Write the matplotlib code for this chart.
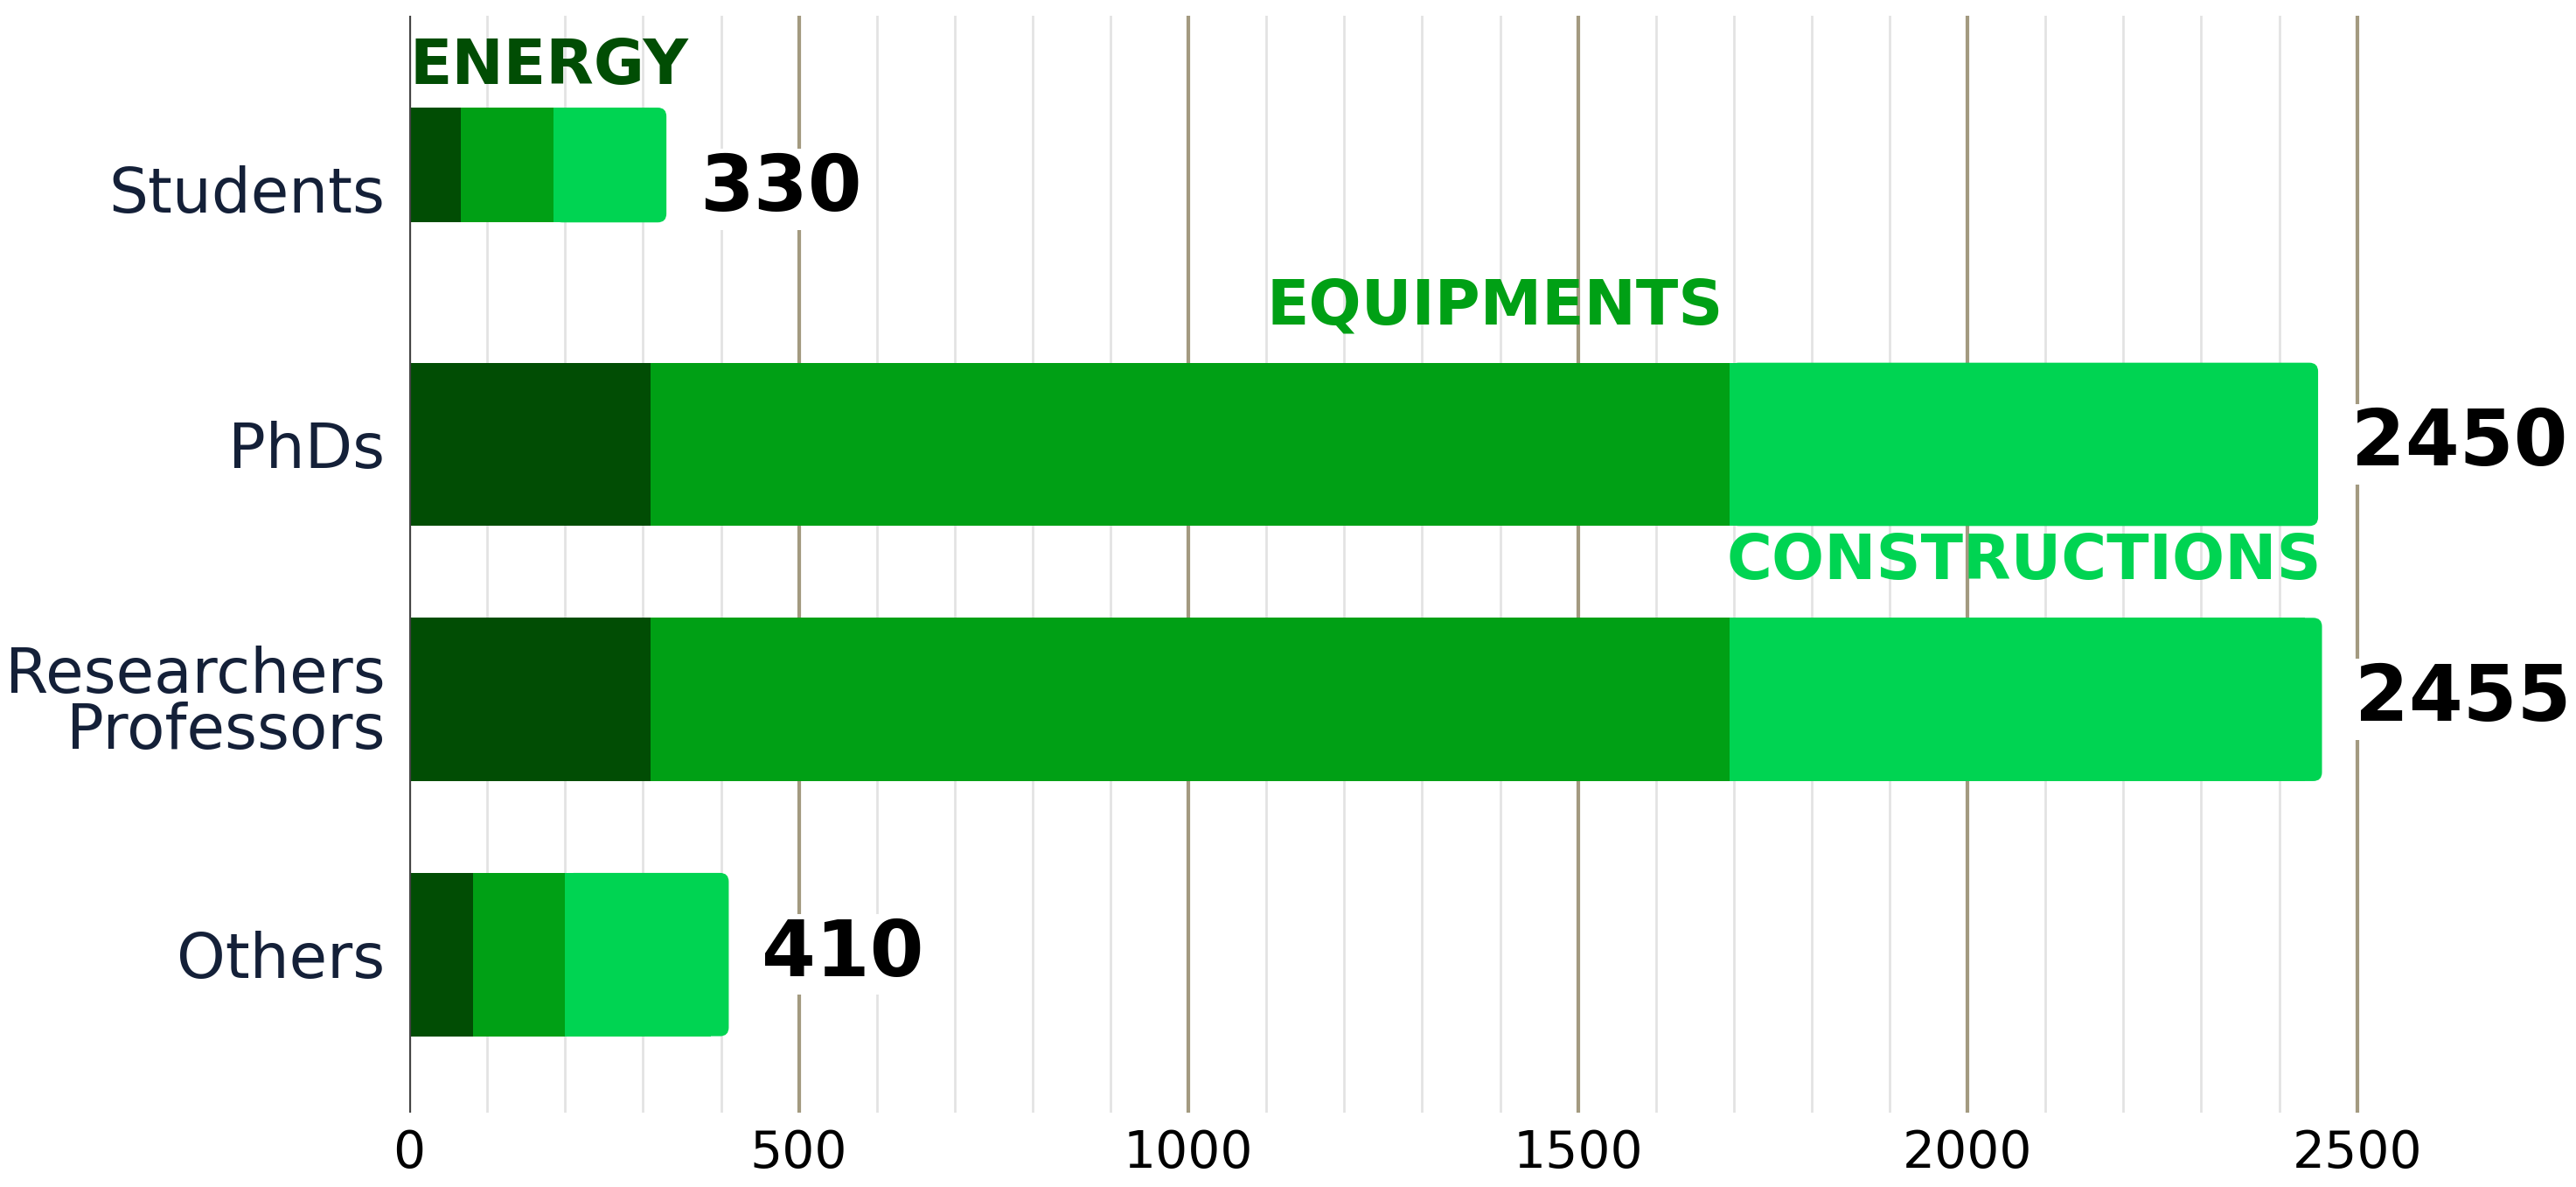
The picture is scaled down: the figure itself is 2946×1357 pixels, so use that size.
import numpy as np
import matplotlib
matplotlib.use("Agg")
import matplotlib.pyplot as plt
from matplotlib.patches import FancyBboxPatch, Rectangle
from matplotlib.ticker import FixedLocator

categories = ["Students", "PhDs", "Researchers\nProfessors", "Others"]
energy = [66, 310, 310, 82]
equipments = [119, 1385, 1385, 118]
constructions = [145, 755, 760, 210]
series_names = ["ENERGY", "EQUIPMENTS", "CONSTRUCTIONS"]
x_ticks = [0, 500, 1000, 1500, 2000, 2500]

COLORS = ["#014d04", "#00a015", "#00d452"]
BAR_H = [0.45, 0.64, 0.64, 0.64]
FULL_H = 0.64
XMAX = 2580
YLIM = (3.62, -0.68)
AX_RECT = [0.1589, 0.0626, 0.7803, 0.9241]
FIG_W, FIG_H = 2946, 1357

def main():
    plt.rcParams["font.family"] = ["DejaVu Sans"]
    fig = plt.figure(figsize=(FIG_W / 100, FIG_H / 100), dpi=100)
    ax = fig.add_axes(AX_RECT)
    ax.set_xlim(0, XMAX)
    ax.set_ylim(*YLIM)

    pos = np.arange(len(categories))
    h = np.array(BAR_H)
    # bars are top aligned inside their slot
    centers = pos - FULL_H / 2 + h / 2

    # pixel per data unit, used for the rounded bar ends
    px_x = AX_RECT[2] * FIG_W / XMAX
    px_y = AX_RECT[3] * FIG_H / abs(YLIM[0] - YLIM[1])
    r = 10 / px_x

    left = np.zeros(len(categories))
    for k, (vals, col) in enumerate(zip([energy, equipments, constructions], COLORS)):
        if k < 2:
            ax.barh(centers, vals, height=h, left=left, color=col, zorder=3, linewidth=0)
        else:
            for c, hh, l0, v in zip(centers, h, left, vals):
                ax.add_patch(FancyBboxPatch((l0, c - hh / 2), v, hh,
                                            boxstyle=f"round,pad=0,rounding_size={r}",
                                            mutation_aspect=px_x / px_y,
                                            facecolor=col, edgecolor="none", zorder=3))
                ax.add_patch(Rectangle((l0, c - hh / 2), v - 2 * r, hh,
                                       facecolor=col, edgecolor="none", zorder=3))
        left = left + np.array(vals)
    totals = left

    # grid
    ax.xaxis.set_major_locator(FixedLocator(x_ticks))
    ax.xaxis.set_minor_locator(FixedLocator([v for v in range(100, 2500, 100) if v % 500]))
    ax.grid(True, axis="x", which="major", color="#a39a80", linewidth=3, zorder=0)
    ax.grid(True, axis="x", which="minor", color="#e3e3e3", linewidth=2, zorder=0)
    ax.axvline(0, color="#444444", linewidth=3, zorder=4)
    for s in ax.spines.values():
        s.set_visible(False)

    ax.set_yticks(pos)
    ax.set_yticklabels(categories, fontsize=51, color="#142038", linespacing=0.9)
    ax.tick_params(axis="y", length=0, pad=20)
    ax.tick_params(axis="x", which="both", length=0, pad=13, labelsize=42, labelcolor="black")

    # totals
    for p, t in zip(pos, totals):
        ax.annotate(f"{int(t)}", xy=(t, p), xytext=(27, 0), textcoords="offset points",
                    ha="left", va="center", fontsize=64, fontweight="bold", color="black",
                    bbox=dict(facecolor="white", edgecolor="none", pad=2), zorder=5,
                    annotation_clip=False)

    # series labels on selected bars
    ax.text(0, centers[0] - h[0] / 2 - 0.04, series_names[0], ha="left", va="bottom",
            fontsize=51, fontweight="bold", color=COLORS[0], zorder=5)
    ax.text(energy[1] + equipments[1] - 8, centers[1] - h[1] / 2 - 0.1, series_names[1],
            ha="right", va="bottom", fontsize=51, fontweight="bold", color=COLORS[1], zorder=5)
    ax.text(totals[2], centers[2] - h[2] / 2 - 0.1, series_names[2],
            ha="right", va="bottom", fontsize=51, fontweight="bold", color=COLORS[2], zorder=5)

    fig.savefig("out.png", dpi=100, facecolor="white")

if __name__ == "__main__":
    main()
